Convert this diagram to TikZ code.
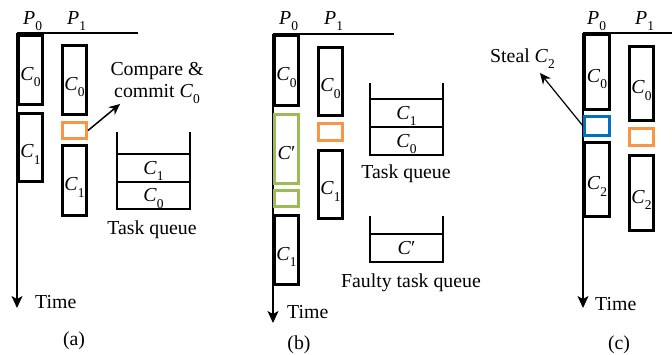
\documentclass[tikz,border=0pt]{standalone}
\usepackage{fontspec}
\setmainfont{Liberation Serif}
\usetikzlibrary{arrows.meta}
\definecolor{orng}{RGB}{247,150,70}
\definecolor{grn}{RGB}{155,187,89}
\definecolor{blu}{RGB}{0,112,192}
\newcommand\sbs[1]{\raisebox{-6.5pt}[0pt][0pt]{\fontsize{13.5}{13.5}\selectfont #1}}
\newcommand\Cv[1]{\textit{C}\sbs{#1}}
\newcommand\Pv[1]{\textit{P}\sbs{#1}}
\newcommand\lo[1]{\raisebox{-4pt}[\height][\depth]{#1}}
\newcommand\pbox[7]{\node[#2, minimum width={(#5-#3)*1pt-3pt}, minimum height={(#6-#4)*1pt-3pt}] (#1) at ({(#3+#5)/2},{(#4+#6)/2}) {#7};}
\tikzset{
  every node/.style={font=\fontsize{19.8}{22}\selectfont, inner sep=0pt},
  blk/.style={draw=black, line width=3pt},
  org/.style={draw=orng, line width=3pt},
  grnb/.style={draw=grn, line width=3pt},
  blub/.style={draw=blu, line width=3pt},
  axis/.style={line width=1.1pt, -{Stealth[length=12pt,width=11pt,inset=3pt]}},
  base/.style={line width=1.1pt},
  qline/.style={line width=2.4pt, line join=miter},
  ptr/.style={line width=1.5pt, -{Stealth[length=11pt,width=10pt]}},
}
\begin{document}
\begin{tikzpicture}[x=1pt,y=-1pt]
\useasboundingbox[fill=white] (0,0) rectangle (672,354);
% ---------------- (a)
\coordinate (ao) at (17,33);
\coordinate (ae) at (138,33);
\coordinate (at) at (17,308);
\draw[base] (ao) -- (ae);
\draw[axis] (ao) -- (at);
\node[anchor=base west] (aP0) at (23,24) {\Pv{0}};
\node[anchor=base west] (aP1) at (67,24) {\Pv{1}};
\pbox{a00}{blk}{17}{34}{44}{106}{\lo{\Cv{0}}}
\pbox{a01}{blk}{17}{112}{44}{183}{\lo{\Cv{1}}}
\pbox{a10}{blk}{61}{44}{88}{116}{\lo{\Cv{0}}}
\pbox{aor}{org}{61}{121}{88}{140}{}
\pbox{a11}{blk}{61}{144}{88}{217}{\lo{\Cv{1}}}
\node[anchor=base] (acmp1) at (157,75) {Compare \&};
\node[anchor=base] (acmp2) at (157,97) {commit \Cv{0}};
\coordinate (aarr) at (120,104);
\draw[ptr] (aor.east) -- (aarr);
\draw[qline] (117,132) -- (117,209) -- (190,209) -- (190,132);
\draw[qline] (117,154) -- (190,154);
\draw[qline] (117,182) -- (190,182);
\node (aq1) at (153.5,168) {\Cv{1}};
\node (aq0) at (153.5,195.5) {\Cv{0}};
\node[anchor=base] (atq) at (152,234) {Task queue};
\node[anchor=base west] (atime) at (35,308) {Time};
\node[anchor=base] (alab) at (74,345) {(a)};
% ---------------- (b)
\coordinate (bo) at (273,34);
\coordinate (be) at (394,34);
\coordinate (bt) at (273,323);
\draw[base] (bo) -- (be);
\draw[axis] (bo) -- (bt);
\node[anchor=base west] (bP0) at (279,24) {\Pv{0}};
\node[anchor=base west] (bP1) at (324,24) {\Pv{1}};
\pbox{b00}{blk}{273}{34}{300}{107}{\lo{\Cv{0}}}
\pbox{bcp}{grnb}{273}{113}{300}{185}{\lo{\textit{C}′}}
\pbox{bgs}{grnb}{273}{189}{300}{208}{}
\pbox{b01}{blk}{273}{214}{300}{286}{\lo{\Cv{1}}}
\pbox{b10}{blk}{317}{46}{344}{117}{\lo{\Cv{0}}}
\pbox{bor}{org}{317}{122}{344}{142}{}
\pbox{b11}{blk}{317}{149}{344}{220}{\lo{\Cv{1}}}
\draw[qline] (370,83) -- (370,155) -- (443,155) -- (443,83);
\draw[qline] (370,99) -- (443,99);
\draw[qline] (370,127) -- (443,127);
\node (bq1) at (406.5,113) {\Cv{1}};
\node (bq0) at (406.5,141) {\Cv{0}};
\node[anchor=base] (btq) at (406,178) {Task queue};
\draw[qline] (370,216) -- (370,262) -- (443,262) -- (443,216);
\draw[qline] (370,234) -- (443,234);
\node (bfq) at (406.5,248) {\textit{C}′};
\node[anchor=base] (bftq) at (411,287) {Faulty task queue};
\node[anchor=base west] (btime) at (287,318) {Time};
\node[anchor=base] (blab) at (299,349) {(b)};
% ---------------- (c)
\coordinate (co) at (583,33);
\coordinate (ce) at (672,33);
\coordinate (ct) at (583,308);
\draw[base] (co) -- (ce);
\draw[axis] (co) -- (ct);
\node[anchor=base west] (cP0) at (587,24) {\Pv{0}};
\node[anchor=base west] (cP1) at (635,24) {\Pv{1}};
\pbox{c00}{blk}{583}{33}{611}{111}{\lo{\Cv{0}}}
\pbox{cbl}{blub}{583}{115}{611}{137}{}
\pbox{c02}{blk}{583}{141}{611}{218}{\lo{\Cv{2}}}
\pbox{c10}{blk}{628}{45}{655}{122}{\lo{\Cv{0}}}
\pbox{cor}{org}{628}{127}{655}{147}{}
\pbox{c12}{blk}{628}{154}{655}{232}{\lo{\Cv{2}}}
\node[anchor=base west] (csteal) at (490,62) {Steal \Cv{2}};
\coordinate (carr) at (540,73);
\draw[ptr, line width=1.2pt] (cbl.west) -- (carr);
\node[anchor=base west] (ctime) at (595,310) {Time};
\node[anchor=base] (clab) at (619,349) {(c)};
\end{tikzpicture}
\end{document}
